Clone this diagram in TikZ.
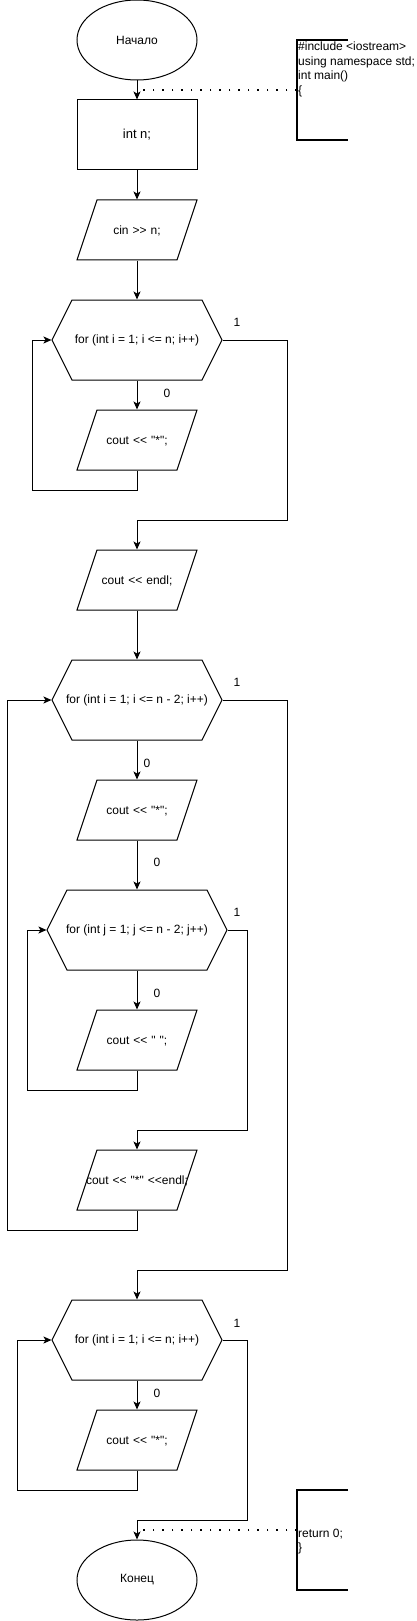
\documentclass[tikz,border=0pt]{standalone}
\usepackage{fontspec}
\newfontfamily\flowfont{Liberation Sans}
\usetikzlibrary{shapes.geometric,shapes.symbols,arrows.meta}

\tikzset{
  base/.style={draw, line width=1pt, inner sep=0pt, font=\flowfont\fontsize{12}{14.4}\selectfont},
  term/.style={base, ellipse, minimum width=120, minimum height=80},
  proc/.style={base, rectangle, minimum width=120, minimum height=70},
  io/.style={base, trapezium, trapezium left angle=71.565, trapezium right angle=108.435,
    text width=80pt, align=center, text height=34.3pt, text depth=25.7pt},
  loopbox/.style={base, signal, signal to=east and west, signal pointer angle=126.87,
    minimum width=170, minimum height=80},
  lbl/.style={inner sep=0pt, font=\flowfont\fontsize{12}{14.4}\selectfont},
  code/.style={inner sep=0pt, align=left, font=\flowfont\fontsize{12}{14.7}\selectfont},
  bracket/.style={minimum width=51, minimum height=100, inner sep=0pt},
  flow/.style={line width=1pt, -{Stealth[length=8pt,width=7pt,inset=2pt]}},
  hint/.style={line width=1.5pt, dash pattern=on 1.5pt off 8pt}
}

\begin{document}
\begin{tikzpicture}[x=1pt,y=-1pt]
\useasboundingbox (0,0) rectangle (417,1621);

% blocks
\node[term] (start) at (137,40) {Начало};
\node[proc, font=\flowfont\fontsize{13}{15}\selectfont] (intn) at (137,135) {int n;};
\node[io] (cin) at (137,230) {cin >> n;};
\node[loopbox] (loop1) at (137,340) {\makebox[0pt]{for (int i = 1; i <= n; i++)}};
\node[io] (star1) at (137,440) {cout << "*";};
\node[io] (endl) at (137,580) {cout << endl;};
\node[loopbox] (loop2) at (137,700) {\makebox[0pt]{for (int i = 1; i <= n - 2; i++)}};
\node[io] (star2) at (137,810) {cout << "*";};
\node[loopbox, minimum width=180] (loop3) at (137,930) {\makebox[0pt]{for (int j = 1; j <= n - 2; j++)}};
\node[io] (space) at (137,1040) {cout << " ";};
\node[io] (starendl) at (137,1180) {\makebox[0pt]{cout << "*" <<endl;}};
\node[loopbox] (loop4) at (137,1340) {\makebox[0pt]{for (int i = 1; i <= n; i++)}};
\node[io] (star3) at (137,1440) {cout << "*";};
\node[term] (finish) at (137,1580) {Конец};

% comments
\node[bracket] (note1) at (322.5,90) {};
\draw[line width=2pt] (note1.north east) -- (note1.north west) -- (note1.south west) -- (note1.south east);
\node[code, anchor=base west] (code1) at (298,94.6) {\#include <iostream>\\using namespace std;\\int main()\\\{};
\node[bracket] (note2) at (322.5,1540) {};
\draw[line width=2pt] (note2.north east) -- (note2.north west) -- (note2.south west) -- (note2.south east);
\node[code, anchor=base west] (code2) at (298,1551.7) {return 0;\\\}};

% labels
\node[lbl] (one1) at (237,322) {1};
\node[lbl] (one2) at (237,682) {1};
\node[lbl] (one3) at (237,912) {1};
\node[lbl] (one4) at (237,1323) {1};
\node[lbl] (zero1) at (167,393) {0};
\node[lbl] (zero2) at (147,763) {0};
\node[lbl] (zero3) at (157,862) {0};
\node[lbl] (zero4) at (157,993) {0};
\node[lbl] (zero5) at (157,1393) {0};

% bends
\coordinate (back1) at (32,490);
\coordinate (exit1) at (287,520);
\coordinate (back2) at (7,1230);
\coordinate (exit2) at (287,1270);
\coordinate (back3) at (27,1090);
\coordinate (exit3) at (247,1130);
\coordinate (back4) at (17,1490);
\coordinate (exit4) at (247,1520);
\coordinate (tap1) at (137,90);
\coordinate (tap2) at (137,1530);

% connectors
\draw[flow] (start.south) -- (intn.north);
\draw[flow] (intn.south) -- (cin.north);
\draw[flow] (cin.south) -- (loop1.north);
\draw[flow] (loop1.south) -- (star1.north);
\draw[flow] (star1.south) |- (back1) |- (loop1.west);
\draw[flow] (loop1.east) -| (exit1) -| (endl.north);
\draw[flow] (endl.south) -- (loop2.north);
\draw[flow] (loop2.south) -- (star2.north);
\draw[flow] (star2.south) -- (loop3.north);
\draw[flow] (loop3.south) -- (space.north);
\draw[flow] (space.south) |- (back3) |- (loop3.west);
\draw[flow] (loop3.east) -| (exit3) -| (starendl.north);
\draw[flow] (starendl.south) |- (back2) |- (loop2.west);
\draw[flow] (loop2.east) -| (exit2) -| (loop4.north);
\draw[flow] (loop4.south) -- (star3.north);
\draw[flow] (star3.south) |- (back4) |- (loop4.west);
\draw[flow] (loop4.east) -| (exit4) -| (finish.north);
\draw[hint] (note1.west) -- (tap1);
\draw[hint] ([yshift=10pt]note2.west) -- (tap2);
\end{tikzpicture}
\end{document}
